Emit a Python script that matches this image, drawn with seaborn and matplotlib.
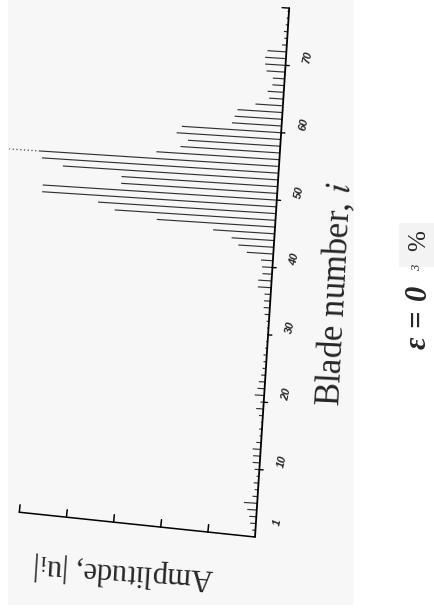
import matplotlib
matplotlib.use("Agg")
import matplotlib.pyplot as plt
from matplotlib.patches import Rectangle
from matplotlib.transforms import Affine2D
import numpy as np
import pandas as pd
import seaborn as sns

# blade index and response amplitude |u_i| (axis ticks every 1 unit, 0..5)
blades = list(range(1, 79))
amplitudes = [
    0.07, 0.12, 0.15, 0.20, 0.28, 0.11, 0.07, 0.10, 0.05, 0.10,
    0.15, 0.15, 0.17, 0.10, 0.04, 0.06, 0.03, 0.08, 0.15, 0.07,
    0.20, 0.15, 0.13, 0.09, 0.07, 0.06, 0.07, 0.04, 0.03, 0.02,
    0.03, 0.05, 0.10, 0.13, 0.13, 0.13, 0.28, 0.28, 0.20, 0.22,
    0.25, 0.56, 0.75, 0.90, 1.30, 2.50, 3.40, 3.76, 4.95, 4.95,
    3.30, 3.30, 4.55, 5.00, 5.05, 2.60, 2.10, 1.95, 2.20, 2.10,
    1.05, 1.00, 0.95, 0.58, 0.30, 0.34, 0.25, 0.25, 0.39, 0.43,
    0.44, 0.40, 0.10, 0.06, 0.08, 0.05, 0.04, 0.03,
]
peak_blade = 55
peak_tail = 5.7           # faint dotted continuation of the largest bar
blade_ticks = [1, 10, 20, 30, 40, 50, 60, 70]
amp_ticks = [1, 2, 3, 4, 5]
blade_max = 78.5
amp_max = 5.0

df = pd.DataFrame({"blade": blades, "amp": amplitudes})

sns.set_style("white")
plt.rcParams["font.family"] = ["Liberation Serif", "DejaVu Serif"]
plt.rcParams["mathtext.fontset"] = "stix"

W, H = 434, 613
fig = plt.figure(figsize=(W / 100, H / 100), dpi=100)
fig.patch.set_facecolor("white")

# scanned page panel
fig.add_artist(Rectangle((8 / W, 8 / H), 346 / W, 605 / H, transform=fig.transFigure,
                         facecolor="#f7f7f7", edgecolor="none", zorder=0))
# small shaded patch around the percent sign
fig.add_artist(Rectangle((399 / W, 346 / H), 35 / W, 44 / H, transform=fig.transFigure,
                         facecolor="#f3f3f3", edgecolor="none", zorder=0))

# amplitude grows to the left, blade number grows upward
x0, y0 = 255, 76
ax = fig.add_axes([18 / W, y0 / H, (x0 - 18) / W, (606 - y0) / H])
ax.patch.set_visible(False)

sns.barplot(data=df, x="amp", y="blade", orient="h", native_scale=True,
            width=0.17, color="#303030", linewidth=0, errorbar=None, ax=ax)
ax.set_xlim(amp_max, 0)
ax.set_ylim(0, blade_max)
ax.axis("off")

# the printed figure sits slightly tilted on the page
tilt = Affine2D().rotate_deg_around(x0, y0, -3.7)
tilt_amp = Affine2D().rotate_deg_around(x0, y0, -6.0)
tr = ax.transData + tilt
tr_amp = ax.transData + tilt_amp

for p in ax.patches:
    p.set_transform(tr)
    p.set_clip_on(False)

ax.plot([amplitudes[blades.index(peak_blade)], peak_tail], [peak_blade, peak_blade],
        ls=(0, (1, 2)), lw=0.9, color="#444444", transform=tr, clip_on=False)

# blade axis with short ticks on its outer side
ax.plot([0, 0], [0, blade_max], color="black", lw=1.3, transform=tr, clip_on=False)
ax.plot([0, 0.15], [blade_max, blade_max], color="black", lw=1.0, transform=tr, clip_on=False)
for b in blade_ticks[1:]:
    ax.plot([0, -0.08], [b, b], color="black", lw=1.0, transform=tr, clip_on=False)
for b in blade_ticks:
    ax.text(-0.46, b + 1.4, str(b), transform=tr, rotation=78, fontsize=8,
            style="italic", weight="bold", family="Liberation Sans",
            ha="center", va="center")

# amplitude axis with upward ticks, no labels
ax.plot([0, amp_max], [0, 0], color="black", lw=1.1, transform=tr_amp, clip_on=False)
for a in amp_ticks:
    ax.plot([a, a], [0, 1.1], color="black", lw=1.1, transform=tr_amp, clip_on=False)

fig.text(335 / W, (H - 294) / H, "Blade number, $i$", rotation=87, fontsize=25,
         ha="center", va="center")
fig.text(124 / W, (H - 572) / H, "Amplitude, |u$_\\mathrm{i}$|", rotation=176.3,
         fontsize=22, ha="center", va="center")

# parameter note, set sideways
for txt, yc in [("ε", 343), ("=", 318), ("0", 292)]:
    fig.text(418 / W, (H - yc) / H, txt, rotation=90, fontsize=22, style="italic",
             weight="bold", ha="center", va="center")
fig.text(417 / W, (H - 268) / H, "3", rotation=90, fontsize=9, style="italic",
         ha="center", va="center")
fig.text(419 / W, (H - 241) / H, "%", rotation=90, fontsize=18,
         ha="center", va="center")

fig.savefig("out.png", dpi=100, facecolor="white")
